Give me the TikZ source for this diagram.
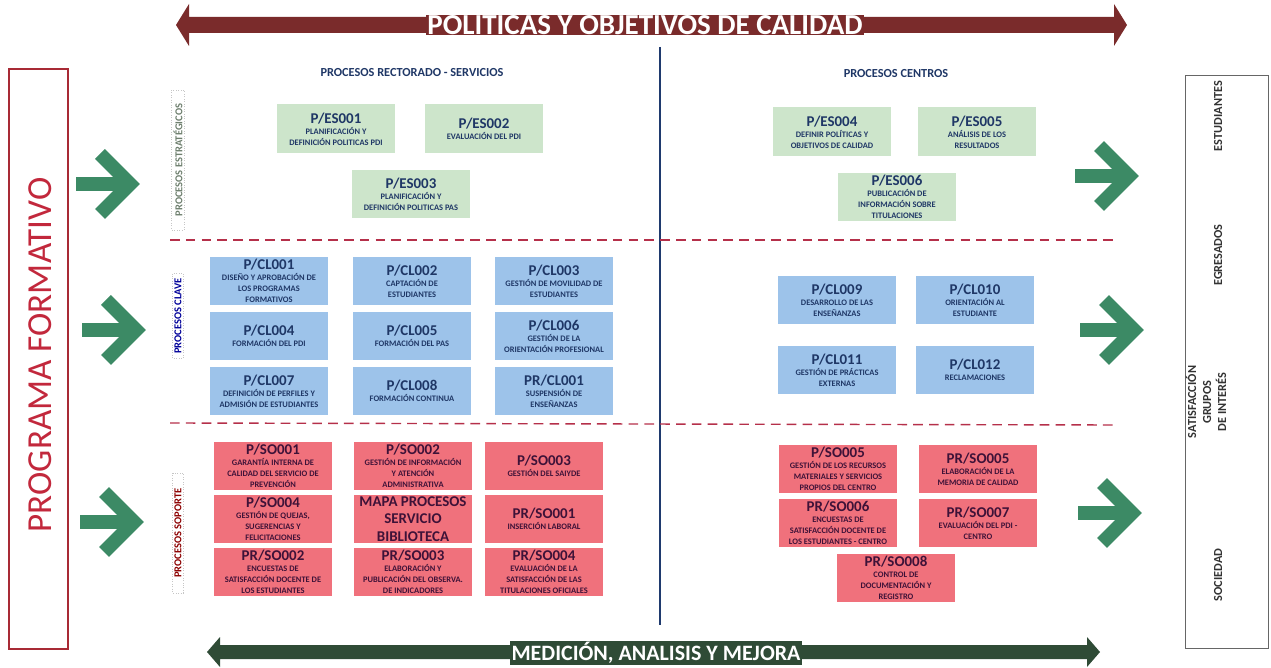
\documentclass[tikz,border=0pt]{standalone}
\usepackage{fontspec}
\setmainfont{Carlito}
\usepackage{tikz}
\usetikzlibrary{positioning,shapes,arrows}

\definecolor{polred}{HTML}{7A2B2B}
\definecolor{medgreen}{HTML}{2F4B36}
\definecolor{chevgreen}{HTML}{3C8A65}
\definecolor{framered}{HTML}{A82A35}
\definecolor{progred}{HTML}{C2283C}
\definecolor{boxgreen}{HTML}{CDE5CB}
\definecolor{boxblue}{HTML}{9DC3EA}
\definecolor{boxred}{HTML}{F0717C}
\definecolor{navytext}{HTML}{1F3766}
\definecolor{redtext}{HTML}{3E1238}
\definecolor{divline}{HTML}{1F3A6E}
\definecolor{dashred}{HTML}{B5304A}
\definecolor{estrtext}{HTML}{6E7F6E}

\newcommand{\tit}[1]{{\fontsize{8.5}{9}\selectfont #1}}

\begin{document}
\begin{tikzpicture}[x=0.02cm,y=-0.02cm,
  procbox/.style={minimum width=2.36cm, minimum height=0.98cm, inner sep=0pt,
    align=center, text=navytext, font=\fontsize{4.8}{6.2}\selectfont\bfseries},
  gbox/.style={procbox, fill=boxgreen},
  bbox/.style={procbox, fill=boxblue},
  rbox/.style={procbox, fill=boxred, text=redtext},
  sidelabel/.style={rotate=90, draw=gray!45, densely dotted, inner sep=1pt,
    font=\fontsize{6}{7}\selectfont\bfseries},
  grouplabel/.style={rotate=90, align=center, text=black!80,
    font=\fontsize{7}{8.5}\selectfont\bfseries},
  header/.style={text=navytext, font=\fontsize{7}{8}\selectfont\bfseries},
  bandtext/.style={text=white, inner xsep=1pt, inner ysep=0.5pt},
  dashline/.style={dashred, line width=0.8pt, dash pattern=on 5.5pt off 3.5pt},
  chevron/.style={chevgreen, line width=0.28cm, line join=miter}]
\useasboundingbox (0,0) rectangle (1271,668);

\fill[polred] (176,25) -- (189,4) -- (189,17) -- (1114,17) -- (1114,4)
  -- (1127,25) -- (1114,46) -- (1114,33) -- (189,33) -- (189,46) -- cycle;
\node[bandtext, fill=polred, font=\fontsize{16.5}{17}\selectfont\bfseries] (polit)
  at (645,25) {POLITICAS Y OBJETIVOS DE CALIDAD};
\fill[medgreen] (207,652) -- (220,637) -- (220,645) -- (1087,645) -- (1087,637)
  -- (1100,652) -- (1087,667) -- (1087,659) -- (220,659) -- (220,667) -- cycle;
\node[bandtext, fill=medgreen, font=\fontsize{12.5}{13}\selectfont\bfseries] (medic)
  at (656,653) {MEDICIÓN, ANALISIS Y MEJORA};

\node[draw=framered, line width=0.8pt, minimum width=1.18cm, minimum height=11.6cm]
  (progbox) at (38.5,359) {};
\node[rotate=90, text=progred, font=\fontsize{20}{22}\selectfont] (progtxt) at (40,355)
  {PROGRAMA FORMATIVO};

\node[draw=black!60, minimum width=1.66cm, minimum height=11.46cm] (grupbox)
  at (1226.5,361.5) {};
\node[grouplabel] (estud) at (1218,116) {ESTUDIANTES};
\node[grouplabel] (egres) at (1218,255) {EGRESADOS};
\node[grouplabel] (satisf) at (1206,402) {SATISFACCIÓN\\GRUPOS\\DE INTERÉS};
\node[grouplabel] (socied) at (1218,575) {SOCIEDAD};

\foreach \x/\y in {76/184, 82/330, 80/522, 1075/176, 1080/330, 1078/513} {
  \draw[chevron] (\x,\y) -- (\x+52,\y);
  \draw[chevron] (\x+24,\y-30) -- (\x+54,\y) -- (\x+24,\y+30);
}

\draw[divline, line width=1.2pt] (660,47) -- (660,625);
\draw[dashline] (170,240) -- (1115,240);
\draw[dashline] (170,423) -- (1115,425);

\node[sidelabel, text=estrtext, minimum width=2.8cm] (estrat) at (178,160)
  {PROCESOS ESTRATÉGICOS};
\node[sidelabel, text=blue!60!black, minimum width=1.7cm] (clave) at (178,316)
  {PROCESOS CLAVE};
\node[sidelabel, text=red!55!black, minimum width=2.4cm] (soporte) at (178,533)
  {PROCESOS SOPORTE};

\node[header] (rector) at (412,73) {PROCESOS RECTORADO - SERVICIOS};
\node[header] (centros) at (896,74) {PROCESOS CENTROS};

\node[gbox] (es001) at (336,129) {\tit{P/ES001}\\PLANIFICACIÓN Y\\DEFINICIÓN POLITICAS PDI};
\node[gbox] (es002) at (484,129) {\tit{P/ES002}\\EVALUACIÓN DEL PDI};
\node[gbox] (es003) at (411,194) {\tit{P/ES003}\\PLANIFICACIÓN Y\\DEFINICIÓN POLITICAS PAS};
\node[gbox] (es004) at (832,132) {\tit{P/ES004}\\DEFINIR POLÍTICAS Y\\OBJETIVOS DE CALIDAD};
\node[gbox] (es005) at (977,132) {\tit{P/ES005}\\ANÁLISIS DE LOS\\RESULTADOS};
\node[gbox] (es006) at (897,197) {\tit{P/ES006}\\PUBLICACIÓN DE\\INFORMACIÓN SOBRE\\TITULACIONES};

\node[bbox] (cl001) at (269,281) {\tit{P/CL001}\\DISEÑO Y APROBACIÓN DE\\LOS PROGRAMAS\\FORMATIVOS};
\node[bbox] (cl002) at (412,281) {\tit{P/CL002}\\CAPTACIÓN DE\\ESTUDIANTES};
\node[bbox] (cl003) at (554,281) {\tit{P/CL003}\\GESTIÓN DE MOVILIDAD DE\\ESTUDIANTES};
\node[bbox] (cl004) at (269,336) {\tit{P/CL004}\\FORMACIÓN DEL PDI};
\node[bbox] (cl005) at (412,336) {\tit{P/CL005}\\FORMACIÓN DEL PAS};
\node[bbox] (cl006) at (554,336) {\tit{P/CL006}\\GESTIÓN DE LA\\ORIENTACIÓN PROFESIONAL};
\node[bbox] (cl007) at (269,391) {\tit{P/CL007}\\DEFINICIÓN DE PERFILES Y\\ADMISIÓN DE ESTUDIANTES};
\node[bbox] (cl008) at (412,391) {\tit{P/CL008}\\FORMACIÓN CONTINUA};
\node[bbox] (prcl001) at (554,391) {\tit{PR/CL001}\\SUSPENSIÓN DE\\ENSEÑANZAS};
\node[bbox] (cl009) at (837,300) {\tit{P/CL009}\\DESARROLLO DE LAS\\ENSEÑANZAS};
\node[bbox] (cl010) at (975,300) {\tit{P/CL010}\\ORIENTACIÓN AL\\ESTUDIANTE};
\node[bbox] (cl011) at (837,370) {\tit{P/CL011}\\GESTIÓN DE PRÁCTICAS\\EXTERNAS};
\node[bbox] (cl012) at (975,370) {\tit{P/CL012}\\RECLAMACIONES};

\node[rbox] (so001) at (273,466) {\tit{P/SO001}\\GARANTÍA INTERNA DE\\CALIDAD DEL SERVICIO DE\\PREVENCIÓN};
\node[rbox] (so002) at (413,466) {\tit{P/SO002}\\GESTIÓN DE INFORMACIÓN\\Y ATENCIÓN\\ADMINISTRATIVA};
\node[rbox] (so003) at (544,466) {\tit{P/SO003}\\GESTIÓN DEL SAIYDE};
\node[rbox] (so004) at (273,519) {\tit{P/SO004}\\GESTIÓN DE QUEJAS,\\SUGERENCIAS Y\\FELICITACIONES};
\node[rbox, font=\fontsize{8.5}{10}\selectfont\bfseries] (biblio) at (413,519)
  {MAPA PROCESOS\\SERVICIO\\BIBLIOTECA};
\node[rbox] (prso001) at (544,519) {\tit{PR/SO001}\\INSERCIÓN LABORAL};
\node[rbox] (prso002) at (273,572) {\tit{PR/SO002}\\ENCUESTAS DE\\SATISFACCIÓN DOCENTE DE\\LOS ESTUDIANTES};
\node[rbox] (prso003) at (413,572) {\tit{PR/SO003}\\ELABORACIÓN Y\\PUBLICACIÓN DEL OBSERVA.\\DE INDICADORES};
\node[rbox] (prso004) at (544,572) {\tit{PR/SO004}\\EVALUACIÓN DE LA\\SATISFACCIÓN DE LAS\\TITULACIONES OFICIALES};
\node[rbox] (so005) at (838,469) {\tit{P/SO005}\\GESTIÓN DE LOS RECURSOS\\MATERIALES Y SERVICIOS\\PROPIOS DEL CENTRO};
\node[rbox] (prso005) at (978,469) {\tit{PR/SO005}\\ELABORACIÓN DE LA\\MEMORIA DE CALIDAD};
\node[rbox] (prso006) at (838,523) {\tit{PR/SO006}\\ENCUESTAS DE\\SATISFACCIÓN DOCENTE DE\\LOS ESTUDIANTES - CENTRO};
\node[rbox] (prso007) at (978,523) {\tit{PR/SO007}\\EVALUACIÓN DEL PDI -\\CENTRO};
\node[rbox] (prso008) at (896,578) {\tit{PR/SO008}\\CONTROL DE\\DOCUMENTACIÓN Y\\REGISTRO};
\end{tikzpicture}
\end{document}
